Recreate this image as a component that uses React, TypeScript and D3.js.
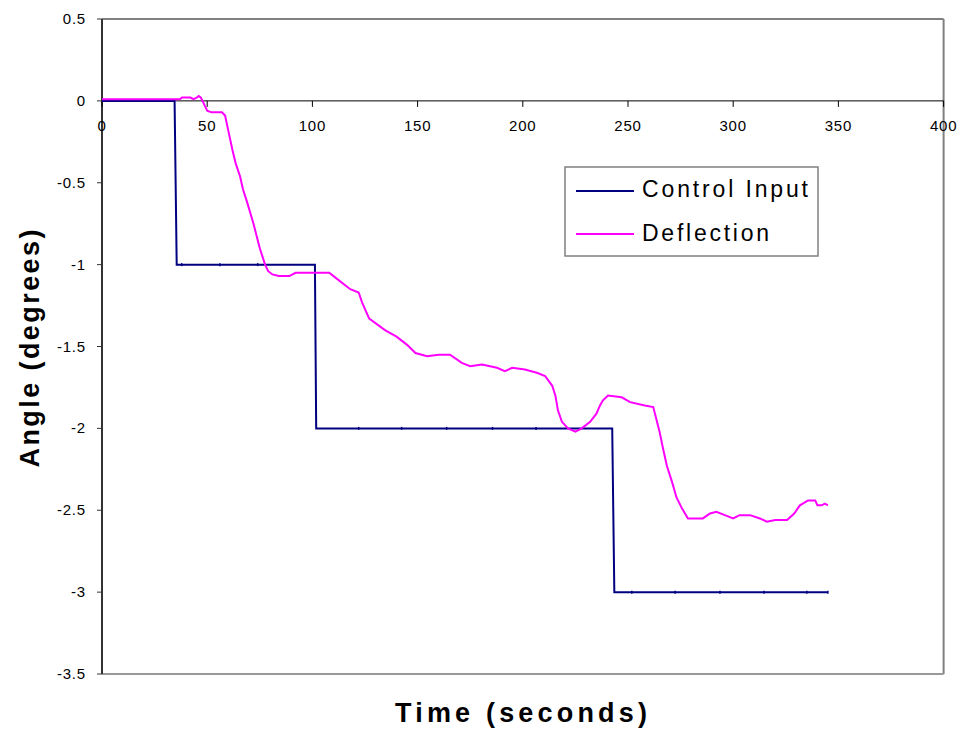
import React from "react";
import * as d3 from "d3";

const xTicks = [0, 50, 100, 150, 200, 250, 300, 350, 400];
const yTicks = [0.5, 0, -0.5, -1, -1.5, -2, -2.5, -3, -3.5];

// Control Input (step command), [time s, angle deg]
const controlInput: [number, number][] = [
  [0, 0], [34.5, 0], [35.5, -1], [101.2, -1], [101.8, -2],
  [242.5, -2], [243.5, -3], [345, -3],
];
// sample marker times on the control input line
const controlSampleTimes = [37.9, 56, 74, 122, 142.4, 163.8, 185.6, 206.3, 251.8, 272.4, 293.7, 314.6, 335, 345];

// Deflection, [time s, angle deg]
const deflection: [number, number][] = [
  [0, 0.01], [37, 0.01], [38, 0.02], [42, 0.02], [43.5, 0.01], [45, 0.02], [46, 0.03], [47, 0.02],
  [48.5, -0.02], [50, -0.06], [52, -0.07], [57, -0.07], [58.5, -0.09], [60, -0.18], [62, -0.3],
  [63.5, -0.38], [65.6, -0.46], [67, -0.54], [69, -0.62], [72, -0.75], [75, -0.9], [77.5, -1.0],
  [79, -1.04], [81, -1.06], [84, -1.07], [89, -1.07], [92, -1.05], [108, -1.05], [112, -1.09], [118, -1.15],
  [122, -1.17], [123.6, -1.23], [127, -1.33], [134.5, -1.4], [140, -1.44], [145, -1.49], [149, -1.54],
  [154.5, -1.56], [160, -1.55], [165.4, -1.55], [171, -1.6], [175, -1.62], [180.6, -1.61],
  [187.7, -1.63], [191.5, -1.65], [195, -1.63], [201, -1.64], [206.7, -1.66], [210.6, -1.68],
  [214, -1.74], [215.5, -1.8], [216.7, -1.89], [218.6, -1.96], [221.5, -2.0], [225, -2.02],
  [228, -2.0], [232, -1.96], [235, -1.91], [236.7, -1.86], [238, -1.83], [240.5, -1.8], [247, -1.81],
  [251, -1.84], [258, -1.86], [262, -1.87], [263, -1.92], [265, -2.02], [266.6, -2.12], [268.5, -2.23],
  [271, -2.33], [273, -2.42], [275.7, -2.49], [278.5, -2.55], [285.6, -2.55], [289, -2.52],
  [292, -2.51], [296, -2.53], [300, -2.55], [303, -2.53], [308, -2.53], [312.7, -2.55], [316, -2.57],
  [320, -2.56], [325.6, -2.56], [329, -2.52], [331.7, -2.47], [335.6, -2.44], [339, -2.44],
  [340, -2.47], [342, -2.47], [343.6, -2.46], [345, -2.47],
];

const seriesNames = ["Control Input", "Deflection"];
const seriesColors = ["#000080", "#ff00ff"];

const FONT = "'Liberation Sans', Arial, Helvetica, sans-serif";

export default function App() {
  const W = 963, H = 735;
  const left = 102, right = 943.6, top = 19, bottom = 674;
  const x = d3.scaleLinear().domain([0, 400]).range([left, right]);
  const y = d3.scaleLinear().domain([-3.5, 0.5]).range([bottom, top]);
  const line = d3.line<[number, number]>().x(d => x(d[0])).y(d => y(d[1]));

  const fmt = (v: number) => (v === 0 ? "0" : String(v));

  return (
    <svg width={W} height={H} style={{ position: "absolute", left: 0, top: 0, background: "#fff" }} fontFamily={FONT}>
      <rect x={0} y={0} width={W} height={H} fill="#fff" />
      {/* plot frame */}
      <line x1={left} y1={top} x2={right} y2={top} stroke="#808080" strokeWidth={2} />
      <line x1={right} y1={top} x2={right} y2={bottom} stroke="#808080" strokeWidth={2} />
      <line x1={left} y1={bottom} x2={right} y2={bottom} stroke="#999" strokeWidth={2} />
      {/* y axis */}
      <line x1={left} y1={top} x2={left} y2={bottom} stroke="#333" strokeWidth={2} />
      {yTicks.map(v => (
        <g key={"y" + v}>
          <line x1={left - 5} x2={left} y1={y(v)} y2={y(v)} stroke="#333" strokeWidth={1} />
          <text x={86} y={y(v) + 5} textAnchor="end" fontSize={15} letterSpacing={0.8} fill="#000">{fmt(v)}</text>
        </g>
      ))}
      {/* x axis at zero */}
      <line x1={left} y1={y(0)} x2={right} y2={y(0)} stroke="#000" strokeWidth={1} />
      {xTicks.map(v => (
        <g key={"x" + v}>
          <line x1={x(v)} x2={x(v)} y1={y(0)} y2={y(0) + 6} stroke="#000" strokeWidth={1} />
          <text x={x(v)} y={y(0) + 30} textAnchor="middle" fontSize={15} letterSpacing={0.8} fill="#000">{v}</text>
        </g>
      ))}
      {/* series */}
      <path d={line(controlInput) || ""} fill="none" stroke={seriesColors[0]} strokeWidth={2} />
      {controlSampleTimes.map(t => {
        const seg = controlInput.filter(p => p[0] <= t);
        const v = seg[seg.length - 1][1];
        return <line key={"m" + t} x1={x(t)} x2={x(t)} y1={y(v) - 1.5} y2={y(v) + 1.5} stroke={seriesColors[0]} strokeWidth={1.5} />;
      })}
      <path d={line(deflection) || ""} fill="none" stroke={seriesColors[1]} strokeWidth={2} strokeLinejoin="miter" />
      {/* legend */}
      <rect x={565} y={167} width={253} height={89} fill="#fff" stroke="#808080" strokeWidth={1.5} />
      {seriesNames.map((n, i) => (
        <g key={n}>
          <line x1={576} x2={634} y1={191 + i * 43} y2={191 + i * 43} stroke={seriesColors[i]} strokeWidth={2} />
          <text x={642} y={197 + i * 43.5} fontSize={23} fill="#000"
            textLength={i === 0 ? 166 : 127} lengthAdjust="spacing">{n}</text>
        </g>
      ))}
      {/* axis titles */}
      <text x={521} y={722} textAnchor="middle" fontSize={27} fontWeight="bold" fill="#000"
        textLength={252} lengthAdjust="spacing">Time (seconds)</text>
      <text transform={`translate(39,${(top + bottom) / 2 + 2}) rotate(-90)`} textAnchor="middle" fontSize={27} fontWeight="bold" fill="#000"
        textLength={238} lengthAdjust="spacing">Angle (degrees)</text>
    </svg>
  );
}
